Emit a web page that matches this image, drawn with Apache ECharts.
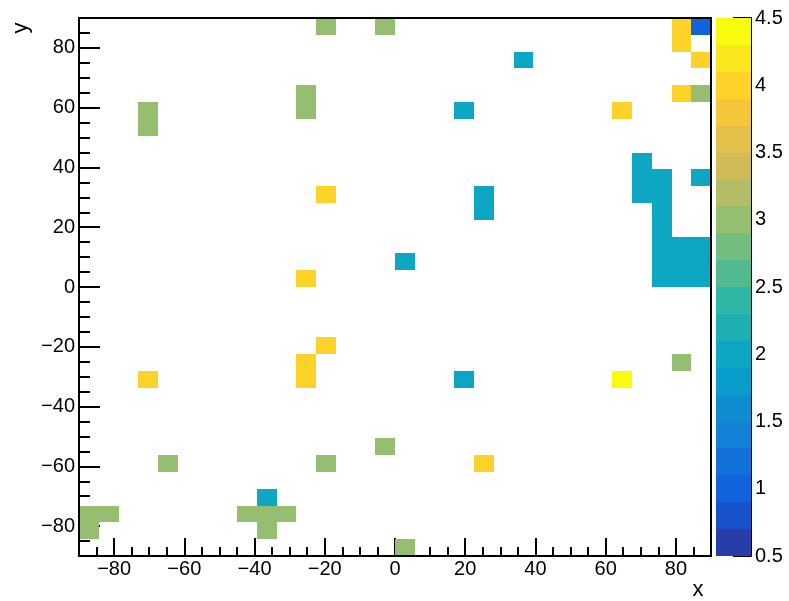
<!DOCTYPE html>
<html>
<head>
<meta charset="utf-8">
<script src="https://cdn.jsdelivr.net/npm/echarts@6/dist/echarts.min.js"></script>
<style>html,body{margin:0;padding:0;background:#fff;}#chart{width:789px;height:601px;}</style>
</head>
<body>
<div id="chart"></div>
<script>
// ---- axis definitions ----
const X_MIN = -90, X_MAX = 90, Y_MIN = -90, Y_MAX = 90;
const NBINS_X = 32, NBINS_Y = 32;
const Z_MIN = 0.5, Z_MAX = 4.5, N_CONTOURS = 20;
const xTickLabels = [-80, -60, -40, -20, 0, 20, 40, 60, 80];
const yTickLabels = [-80, -60, -40, -20, 0, 20, 40, 60, 80];
const xMinorTicks = [-85,-80,-75,-70,-65,-60,-55,-50,-45,-40,-35,-30,-25,-20,-15,-10,-5,0,5,10,15,20,25,30,35,40,45,50,55,60,65,70,75,80,85];
const yMinorTicks = [-85,-80,-75,-70,-65,-60,-55,-50,-45,-40,-35,-30,-25,-20,-15,-10,-5,0,5,10,15,20,25,30,35,40,45,50,55,60,65,70,75,80,85];
const zTickLabels = [0.5, 1, 1.5, 2, 2.5, 3, 3.5, 4, 4.5];

// ---- filled bins: x bin index, y bin index, content ----
const cellI = [12,15,3,3,11,11,31,30,15,4,12,8,9,10,9,0,1,0,16,
               12,11,30,30,31,30,27,12,11,11,3,20,
               27,
               31,
               16,22,19,28,28,28,29,29,29,29,29,29,29,30,30,30,31,31,31,31,20,20,19,9];
const cellJ = [31,31,25,26,26,27,27,11,6,5,5,2,2,2,1,2,2,1,0,
               21,16,31,30,29,27,26,12,11,10,10,5,
               10,
               31,
               17,29,26,21,22,23,16,17,18,19,20,21,22,16,17,18,16,17,18,22,20,21,10,3];
const cellV = [3,3,3,3,3,3,3,3,3,3,3,3,3,3,3,3,3,3,3,
               4,4,4,4,4,4,4,4,4,4,4,4,
               4.5,
               1,
               2,2,2,2,2,2,2,2,2,2,2,2,2,2,2,2,2,2,2,2,2,2,2,2];

// ---- kBird palette (style) ----
const birdStops = [0, 0.125, 0.25, 0.375, 0.5, 0.625, 0.75, 0.875, 1];
const birdR = [0.2082, 0.0592, 0.0780, 0.0232, 0.1802, 0.5301, 0.8186, 0.9956, 0.9764];
const birdG = [0.1664, 0.3599, 0.5041, 0.6419, 0.7178, 0.7492, 0.7328, 0.7862, 0.9832];
const birdB = [0.5293, 0.8684, 0.8385, 0.7914, 0.6425, 0.4662, 0.3499, 0.1968, 0.0539];
function birdColor(t) {
  let k = 0;
  while (k < birdStops.length - 2 && t > birdStops[k + 1]) k++;
  const f = (t - birdStops[k]) / (birdStops[k + 1] - birdStops[k]);
  const c = a => Math.round(255 * (a[k] + f * (a[k + 1] - a[k])));
  const h = v => v.toString(16).padStart(2, '0');
  return '#' + h(c(birdR)) + h(c(birdG)) + h(c(birdB));
}
const bandColors = [];
const bandLo = [], bandHi = [];
for (let k = 0; k < N_CONTOURS; k++) {
  const p = Math.floor((k + 0.99) * 255 / N_CONTOURS);
  bandColors.push(birdColor(p / 254));
  bandLo.push(Z_MIN + k * (Z_MAX - Z_MIN) / N_CONTOURS);
  bandHi.push(Z_MIN + (k + 1) * (Z_MAX - Z_MIN) / N_CONTOURS);
}

const bwX = (X_MAX - X_MIN) / NBINS_X, bwY = (Y_MAX - Y_MIN) / NBINS_Y;
const cellData = cellI.map((i, k) => [i, cellJ[k], cellV[k]]);
const barData = bandLo.map((lo, k) => [lo, bandHi[k], k]);

const FONT = "'Liberation Sans', Arial, Helvetica, sans-serif";
const black = '#000';
const minusFmt = v => String(v).replace('-', '\u2212');

const pieces = bandLo.map((lo, k) => k === N_CONTOURS - 1
  ? { gte: lo - 1e-9, lte: bandHi[k] + 1e-9, color: bandColors[k] }
  : { gte: lo - 1e-9, lt: bandHi[k] - 1e-9, color: bandColors[k] });

const chart = echarts.init(document.getElementById('chart'), null, { renderer: 'canvas' });
chart.setOption({
  animation: false,
  backgroundColor: '#fff',
  grid: [
    { left: 79, top: 18, width: 632, height: 538, show: true, borderColor: black, borderWidth: 2, backgroundColor: 'transparent', z: 5 },
    { left: 716, top: 18, width: 35, height: 538, show: false }
  ],
  visualMap: [{ type: 'piecewise', show: false, dimension: 2, seriesIndex: 0, pieces: pieces }],
  xAxis: [
    { type: 'value', gridIndex: 0, min: X_MIN, max: X_MAX, position: 'bottom',
      axisLine: { show: true, onZero: false, lineStyle: { color: black, width: 2 } },
      axisTick: { show: true, inside: true, length: 18, customValues: xTickLabels, lineStyle: { color: black, width: 2 } },
      axisLabel: { show: true, customValues: xTickLabels, formatter: minusFmt, margin: 3, color: black, fontSize: 20, fontFamily: FONT },
      splitLine: { show: false } },
    { type: 'value', gridIndex: 0, min: X_MIN, max: X_MAX, position: 'bottom',
      axisLine: { show: false, onZero: false },
      axisTick: { show: true, inside: true, length: 9, customValues: xMinorTicks, lineStyle: { color: black, width: 2 } },
      axisLabel: { show: false }, splitLine: { show: false } },
    { type: 'value', gridIndex: 1, min: 0, max: 1, show: false }
  ],
  yAxis: [
    { type: 'value', gridIndex: 0, min: Y_MIN, max: Y_MAX, position: 'left',
      axisLine: { show: true, onZero: false, lineStyle: { color: black, width: 2 } },
      axisTick: { show: true, inside: true, length: 21, customValues: yTickLabels, lineStyle: { color: black, width: 2 } },
      axisLabel: { show: true, customValues: yTickLabels, formatter: minusFmt, margin: 4, color: black, fontSize: 20, fontFamily: FONT },
      splitLine: { show: false } },
    { type: 'value', gridIndex: 0, min: Y_MIN, max: Y_MAX, position: 'left',
      axisLine: { show: false, onZero: false },
      axisTick: { show: true, inside: true, length: 11, customValues: yMinorTicks, lineStyle: { color: black, width: 2 } },
      axisLabel: { show: false }, splitLine: { show: false } },
    { type: 'value', gridIndex: 1, min: Z_MIN, max: Z_MAX, interval: 0.5, position: 'right',
      axisLine: { show: true, onZero: false, lineStyle: { color: black, width: 2 } },
      axisTick: { show: true, inside: true, length: 18, lineStyle: { color: black, width: 2 } },
      axisLabel: { show: true, margin: 4, color: black, fontSize: 20, fontFamily: FONT },
      splitLine: { show: false } }
  ],
  series: [
    { type: 'custom', xAxisIndex: 0, yAxisIndex: 0, data: cellData, clip: true,
      encode: { x: 0, y: 1 },
      renderItem: function (params, api) {
        const i = api.value(0), j = api.value(1);
        const p0 = api.coord([X_MIN + i * bwX, Y_MIN + j * bwY]);
        const p1 = api.coord([X_MIN + (i + 1) * bwX, Y_MIN + (j + 1) * bwY]);
        const x0 = Math.round(p0[0]), x1 = Math.round(p1[0]);
        const yb = Math.round(p0[1]), yt = Math.round(p1[1]);
        return { type: 'rect', shape: { x: x0, y: yt, width: x1 - x0, height: yb - yt },
                 style: { fill: api.visual('color') } };
      } },
    { type: 'custom', xAxisIndex: 2, yAxisIndex: 2, data: barData, silent: true,
      encode: { y: [0, 1] },
      renderItem: function (params, api) {
        const lo = api.value(0), hi = api.value(1), k = api.value(2);
        const p0 = api.coord([0, lo]);
        const p1 = api.coord([1, hi]);
        const x0 = Math.round(p0[0]), x1 = Math.round(p1[0]);
        const yb = Math.round(p0[1]), yt = Math.round(p1[1]);
        return { type: 'rect', shape: { x: x0, y: yt, width: x1 - x0, height: yb - yt },
                 style: { fill: bandColors[k] } };
      } }
  ],
  graphic: [
    { type: 'text', x: 698, y: 590, style: { text: 'x', fontSize: 22, fontFamily: FONT, fill: black, align: 'center', verticalAlign: 'middle' } },
    { type: 'text', x: 21, y: 28, rotation: Math.PI / 2, style: { text: 'y', fontSize: 22, fontFamily: FONT, fill: black, align: 'center', verticalAlign: 'middle' } }
  ]
});
</script>
</body>
</html>
